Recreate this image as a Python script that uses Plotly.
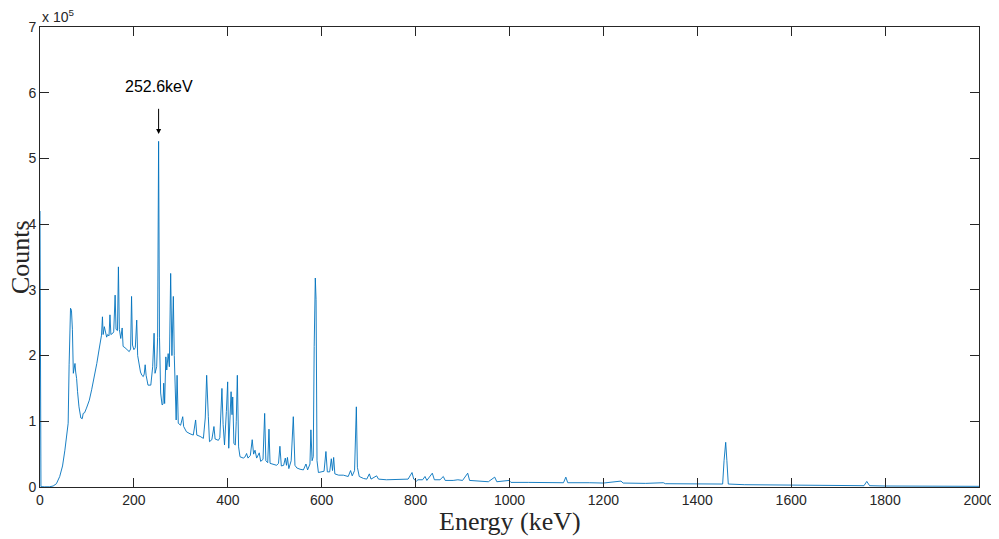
import plotly.graph_objects as go

# Energy (keV) and Counts
energy = [0, 2, 10, 20, 28, 35, 42, 48, 53, 57, 60, 62, 64, 65, 67, 69, 71, 73, 74.5, 76, 78, 80, 83, 87, 90, 92, 95, 99,
          105, 110, 115, 121, 126, 129, 131, 133, 134.5, 137, 140, 142, 144, 147, 149, 151, 155, 157, 160, 162, 165, 167,
          169, 172, 175, 177, 181, 185, 190, 193, 195, 197, 200, 203, 206, 208, 210, 214, 217, 220, 222, 224, 226, 230,
          236, 240, 243, 245, 248.5, 250.5, 252.6, 254.5, 257, 260, 262, 263.5, 265.5, 268, 270, 273, 275.5, 278.3, 281,
          284, 286, 288, 290, 292, 294.5, 299.5, 304, 306, 312, 319.5, 326.5, 331.5, 334, 341, 348, 352, 355, 358.5, 361,
          366, 370.5, 373, 380, 383, 385, 387.5, 390, 393, 397, 399.7, 402, 405, 407, 409, 410.5, 413, 416, 418, 420.3,
          423, 426, 433, 437, 440, 443, 448, 452, 455, 458, 461.5, 467, 470, 475, 478.5, 481, 485, 487.7, 490, 497, 504,
          508, 511, 514, 519, 522.5, 525, 527, 530, 535, 539.5, 543, 547, 554, 561, 566.5, 570, 575, 577, 579.5, 582, 584,
          586.4, 588, 590, 593, 600, 605, 609, 612, 617, 620.5, 623, 625.5, 628, 636, 646, 656.5, 661.5, 665, 670, 671.5,
          673.8, 676, 680, 689, 696, 701.5, 705, 717, 721, 738, 760, 774, 784, 792.4, 796, 802, 805, 815, 820, 824, 835.6,
          840, 852, 859, 863, 880, 890, 900, 911, 915, 935, 955, 968.5, 973, 999, 1003, 1040, 1080, 1115, 1120, 1124,
          1170, 1200, 1237.5, 1242, 1290, 1327.6, 1332, 1380, 1420, 1454, 1457, 1460.5, 1463, 1466, 1500, 1550, 1600,
          1650, 1700, 1755, 1761, 1767, 1800, 1850, 1900, 1950, 2000]
counts = [420000, 500, 300, 300, 1500, 5000, 16000, 32000, 56000, 78000, 97000, 186000, 250000, 272000, 269000, 240000,
          173000, 180000, 188000, 175000, 165000, 145000, 122000, 105000, 104000, 112000, 113000, 120000, 132000, 148000,
          165000, 188000, 210000, 224000, 231000, 259000, 232000, 244000, 230000, 228000, 232000, 230000, 262000, 232000,
          234000, 236000, 292000, 240000, 238000, 335000, 240000, 226000, 242000, 214000, 212000, 209000, 206000, 210000,
          290000, 216000, 209000, 212000, 254000, 200000, 191000, 175000, 170000, 168000, 172000, 186000, 170000, 155000,
          155000, 183000, 234000, 173000, 183000, 228000, 526000, 228000, 143000, 125000, 126000, 158000, 127000, 198000,
          178000, 203000, 183000, 325000, 200000, 290000, 200000, 163000, 102000, 170000, 97000, 94000, 107000, 92000,
          84000, 81000, 79000, 102000, 79000, 77000, 74000, 105000, 170000, 107000, 69000, 72000, 92000, 73000, 71000,
          75000, 104000, 150000, 95000, 64000, 115000, 160000, 59000, 100000, 145000, 110000, 137000, 66000, 64000,
          100000, 170000, 61000, 46000, 44000, 46000, 51000, 44000, 48000, 72000, 50000, 56000, 44000, 52000, 39000,
          42000, 112000, 40000, 37000, 88000, 36000, 34000, 33000, 36000, 62000, 32000, 33000, 44000, 33000, 45000, 28000,
          40000, 107000, 33000, 29000, 27000, 26000, 35000, 26000, 35000, 87000, 40000, 46000, 214000, 318000, 285000,
          40000, 22000, 23000, 24000, 54000, 23000, 23000, 43000, 25000, 45000, 20000, 18000, 18000, 16000, 25000, 17000,
          25000, 74000, 122000, 30000, 16000, 13000, 12000, 20000, 12000, 17000, 12000, 11000, 11000, 12000, 12000, 22000,
          12000, 9000, 11000, 11000, 16000, 10000, 21000, 11000, 11000, 16000, 10000, 10000, 11000, 10000, 21000, 10000,
          9000, 8000, 15000, 8000, 10000, 7000, 7000, 6500, 6500, 15000, 6500, 6500, 6000, 9000, 6000, 5500, 6500, 5000,
          4500, 4500, 4500, 40000, 68000, 40000, 4500, 3500, 3000, 2500, 2000, 2000, 2000, 8500, 2000, 1500, 1500, 1500,
          1200, 1000]

x_ticks = [0, 200, 400, 600, 800, 1000, 1200, 1400, 1600, 1800, 2000]
y_ticks = [0, 100000, 200000, 300000, 400000, 500000, 600000, 700000]
y_tick_labels = ["0", "1", "2", "3", "4", "5", "6", "7"]

peak_energy = 252.6
peak_label = "252.6keV"

fig = go.Figure()
fig.add_trace(go.Scatter(x=energy, y=counts, mode="lines",
                         line=dict(color="#0072BD", width=0.9), showlegend=False))

axis_color = "#262626"
tick_font = dict(family="Liberation Sans, Arial", size=14, color=axis_color)

fig.update_xaxes(range=[0, 2000], tickvals=x_ticks, ticks="inside", ticklen=9, tickcolor=axis_color,
                 showline=True, linecolor=axis_color, linewidth=1, mirror="ticks", automargin=False,
                 showgrid=False, zeroline=False, tickfont=tick_font)
fig.update_yaxes(range=[0, 700000], tickvals=y_ticks, ticktext=y_tick_labels, ticks="inside", ticklen=9,
                 tickcolor=axis_color, showline=True, linecolor=axis_color, linewidth=1, mirror="ticks",
                 automargin=False, showgrid=False, zeroline=False, tickfont=tick_font)

title_font = dict(family="Liberation Serif, Times New Roman, serif", size=26, color=axis_color)

# The page body adds an 8px offset, so the figure is sized and margined to compensate.
fig.update_layout(
    width=991, height=531,
    margin=dict(l=32, r=20, t=19, b=52),
    paper_bgcolor="white", plot_bgcolor="white",
    annotations=[
        dict(text="Energy (keV)", xref="paper", yref="paper", x=0.5, y=-0.076,
             xanchor="center", yanchor="middle", showarrow=False, font=title_font),
        dict(text="Counts", xref="paper", yref="paper", x=-0.0213, y=0.5, textangle=-90,
             xanchor="center", yanchor="middle", showarrow=False, font=title_font),
        dict(text="x 10<sup>5</sup>", xref="paper", yref="paper", x=0, y=1.0,
             xanchor="left", yanchor="bottom", showarrow=False, font=tick_font),
        dict(text=peak_label, x=peak_energy, y=537000, ax=peak_energy, ay=609000, xref="x", yref="y",
             axref="x", ayref="y", showarrow=True, arrowhead=2, arrowsize=1, arrowwidth=1,
             arrowcolor="black", startstandoff=12,
             font=dict(family="Liberation Sans, Arial", size=16, color="black")),
    ],
)

fig.write_html("out.html")
